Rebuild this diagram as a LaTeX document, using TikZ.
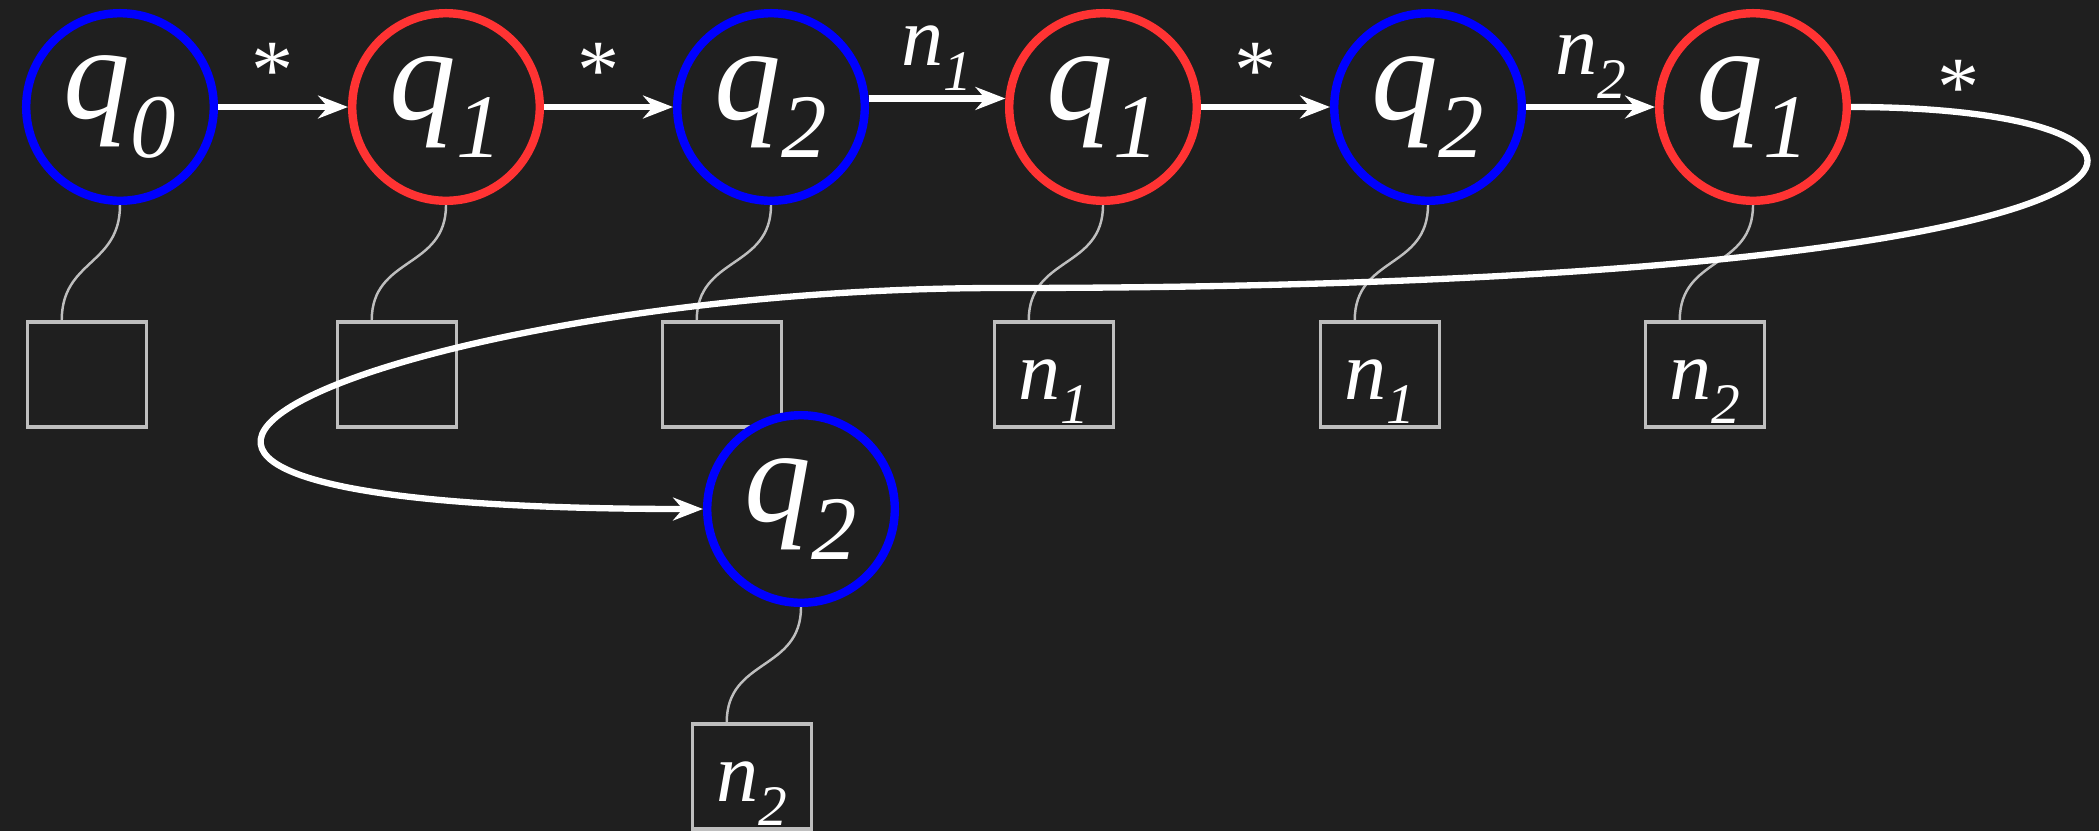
\documentclass[tikz,border=0pt]{standalone}
\usepackage{fontspec}
\setmainfont{Liberation Serif}
\usetikzlibrary{arrows.meta}
\definecolor{fond}{RGB}{31,31,31}
\definecolor{bleuq}{RGB}{0,0,255}
\definecolor{rougeq}{RGB}{255,51,51}
\definecolor{grisfil}{RGB}{190,190,190}
\newcommand{\ind}[2]{\textit{#1}\raisebox{-0.29em}{\scalebox{0.68}{\textit{#2}}}}

\begin{document}
\begin{tikzpicture}[
				etat/.style={circle,fill=fond,line width=2.4pt,minimum size=1.876cm,inner sep=0pt,
					text=white,font=\fontsize{38}{44}\selectfont},
				bleu/.style={etat,draw=bleuq},
				rouge/.style={etat,draw=rougeq},
				case/.style={draw=grisfil,line width=1pt,minimum width=1.19cm,minimum height=1.05cm,
					inner sep=0pt,text=white,text height=18pt,text depth=4pt,
					font=\fontsize{24}{28}\selectfont},
				arr/.style={-{Stealth[length=8.5pt,width=6.5pt]},white,line width=1.8pt},
				fil/.style={grisfil,line width=0.7pt},
				lab/.style={text=white,inner sep=1.5pt,font=\fontsize{24}{28}\selectfont}]
				
				\path[use as bounding box,fill=fond] (0,0) rectangle (20.99,-8.31);
				
				\node[case] (c0) at (0.87,-3.745)  {};
				\node[case] (c1) at (3.97,-3.745)  {};
				\node[case] (c2) at (7.22,-3.745)  {};
				\node[case] (c3) at (10.54,-3.745) {\ind{n}{1}};
				\node[case] (c4) at (13.80,-3.745) {\ind{n}{1}};
				\node[case] (c5) at (17.05,-3.745) {\ind{n}{2}};
				\node[case] (c6) at (7.52,-7.765)  {\ind{n}{2}};
				
				\node[bleu]  (q0)  at (1.20,-1.07)  {\ind{q}{0}};
				\node[rouge] (q1a) at (4.46,-1.07)  {\ind{q}{1}};
				\node[bleu]  (q2a) at (7.71,-1.07)  {\ind{q}{2}};
				\node[rouge] (q1b) at (11.03,-1.07) {\ind{q}{1}};
				\node[bleu]  (q2b) at (14.28,-1.07) {\ind{q}{2}};
				\node[rouge] (q1c) at (17.53,-1.07) {\ind{q}{1}};
				\node[bleu]  (q2c) at (8.01,-5.09)  {\ind{q}{2}};
				
				\draw[fil] (q0.south)  to[out=-90,in=90,looseness=1.2] ([xshift=3.6mm]c0.north west);
				\draw[fil] (q1a.south) to[out=-90,in=90,looseness=1.2] ([xshift=3.6mm]c1.north west);
				\draw[fil] (q2a.south) to[out=-90,in=90,looseness=1.2] ([xshift=3.6mm]c2.north west);
				\draw[fil] (q1b.south) to[out=-90,in=90,looseness=1.2] ([xshift=3.6mm]c3.north west);
				\draw[fil] (q2b.south) to[out=-90,in=90,looseness=1.2] ([xshift=3.6mm]c4.north west);
				\draw[fil] (q1c.south) to[out=-90,in=90,looseness=1.2] ([xshift=3.6mm]c5.north west);
				\draw[fil] (q2c.south) to[out=-90,in=90,looseness=1.2] ([xshift=3.6mm]c6.north west);
				
				\draw[arr] (q0)--(q1a) node[lab,midway,above,xshift=-1mm]{*};
				\draw[arr] (q1a)--(q2a) node[lab,midway,above,xshift=-1mm]{*};
				\draw[arr] (q2a.5)--(q1b.175) node[lab,midway,above]{\ind{n}{1}};
				\draw[arr] (q1b)--(q2b) node[lab,midway,above,xshift=-1mm]{*};
				\draw[arr] (q2b)--(q1c) node[lab,midway,above]{\ind{n}{2}};
				
				\coordinate (retour) at (10.0,-2.88);
				\draw[arr] (q1c.east) .. controls +(4.0,0) and +(12.5,0) .. (retour)
				node[lab,pos=0.1,above=-1.2mm]{*}
				.. controls +(-6.0,0) and +(-8.5,0) .. (q2c.west);
			\end{tikzpicture}
\end{document}
